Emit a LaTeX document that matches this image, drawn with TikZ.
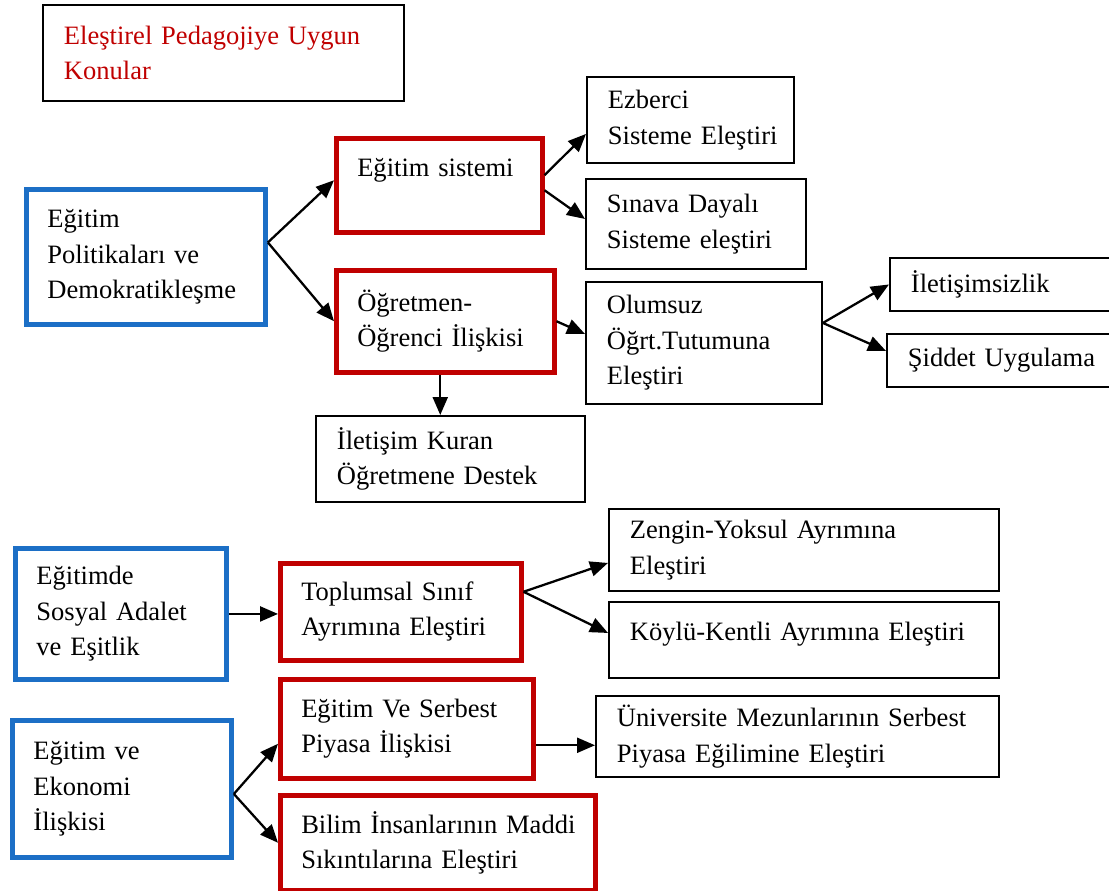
\documentclass[tikz,border=0pt]{standalone}
\usepackage{fontspec}
\setmainfont{Liberation Serif}
\usetikzlibrary{arrows.meta}
\definecolor{kirmizi}{HTML}{C00000}
\definecolor{mavi}{HTML}{1C6FC6}

\begin{document}
\begin{tikzpicture}[x=0.02cm, y=-0.02cm,
    kutu/.style={draw, line width=1.1pt, anchor=north west, align=left,
      inner xsep=0.42cm, inner ysep=0pt, font=\fontsize{15.1pt}{20.2pt}\selectfont,
      execute at begin node={\hyphenpenalty=10000}},
    mavikutu/.style={kutu, draw=mavi, line width=2.8pt},
    kirmizikutu/.style={kutu, draw=kirmizi, line width=2.6pt},
    ok/.style={line width=1.3pt, -{Triangle[length=0.36cm,width=0.3cm]}}]
  \useasboundingbox (0,0) rectangle (1109,891);

  % Title
  \node[kutu, text=kirmizi, text width=6.38cm, minimum height=1.92cm] (baslik) at (42,4)
    {Eleştirel~Pedagojiye~Uygun\\Konular};

  % First group
  \node[mavikutu, text width=3.94cm, minimum height=2.70cm] (pol) at (24,187)
    {Eğitim\\Politikaları~ve\\Demokratikleşme};
  \node[kirmizikutu, text width=3.28cm, minimum height=1.88cm] (sis) at (334,136)
    {Eğitim~sistemi\\\mbox{}};
  \node[kirmizikutu, text width=3.52cm, minimum height=2.04cm] (ogr) at (334,268)
    {Öğretmen-\\Öğrenci~İlişkisi};
  \node[kutu, text width=3.30cm, minimum height=1.72cm] (ezb) at (586,76)
    {Ezberci\\Sisteme~Eleştiri};
  \node[kutu, text width=3.56cm, minimum height=1.80cm] (sin) at (585,178)
    {Sınava~Dayalı\\Sisteme~eleştiri};
  \node[kutu, text width=3.88cm, minimum height=2.44cm] (olm) at (585,281)
    {Olumsuz\\Öğrt.Tutumuna\\Eleştiri};
  \node[kutu, text width=4.16cm, minimum height=1.06cm] (ilt) at (889,257)
    {İletişimsizlik};
  \node[kutu, text width=4.16cm, minimum height=1.06cm] (sid) at (886,333)
    {Şiddet~Uygulama};
  \node[kutu, text width=4.54cm, minimum height=1.72cm] (ilk) at (315,415)
    {İletişim~Kuran\\Öğretmene~Destek};

  % Second group
  \node[mavikutu, text width=3.38cm, minimum height=2.62cm] (sos) at (13,546)
    {Eğitimde\\Sosyal~Adalet\\ve~Eşitlik};
  \node[kirmizikutu, text width=3.98cm, minimum height=1.94cm] (snf) at (278,561)
    {Toplumsal~Sınıf\\Ayrımına~Eleştiri};
  \node[kutu, text width=6.96cm, minimum height=1.64cm] (zen) at (608,508)
    {Zengin-Yoksul~Ayrımına\\Eleştiri};
  \node[kutu, text width=6.96cm, minimum height=1.52cm] (kyl) at (608,601)
    {Köylü-Kentli~Ayrımına~Eleştiri\\[-0.35cm]\mbox{}};

  % Third group
  \node[mavikutu, text width=3.54cm, minimum height=2.74cm] (eko) at (10,718)
    {Eğitim~ve\\Ekonomi\\İlişkisi};
  \node[kirmizikutu, text width=4.22cm, minimum height=1.98cm] (ser) at (278,677)
    {Eğitim~Ve~Serbest\\Piyasa~İlişkisi};
  \node[kirmizikutu, text width=5.46cm, minimum height=1.90cm] (bil) at (278,793)
    {Bilim~İnsanlarının~Maddi\\Sıkıntılarına~Eleştiri};
  \node[kutu, text width=7.22cm, minimum height=1.62cm] (uni) at (595,695)
    {Üniversite~Mezunlarının~Serbest\\Piyasa~Eğilimine~Eleştiri};

  % Draw arrows
  \draw[ok] ([yshift=0.29cm]pol.east) -- ([yshift=0.1cm]sis.west);
  \draw[ok] ([yshift=0.29cm]pol.east) -- (ogr.west);
  \draw[ok] ([yshift=0.2cm]sis.east) -- ([yshift=-0.28cm]ezb.west);
  \draw[ok] ([yshift=-0.1cm]sis.east) -- ([yshift=0.1cm]sin.west);
  \draw[ok] (ogr.east) -- ([yshift=0.18cm]olm.west);
  \draw[ok] ([xshift=-0.1cm]ogr.south) -- ([xshift=-0.1cm]ogr.south |- ilk.north);
  \draw[ok] ([yshift=0.4cm]olm.east) -- (ilt.west);
  \draw[ok] ([yshift=0.4cm]olm.east) -- ([yshift=0.19cm]sid.west);
  \draw[ok] (sos.east) -- (sos.east -| snf.west);
  \draw[ok] ([yshift=0.4cm]snf.east) -- ([yshift=-0.26cm]zen.west);
  \draw[ok] ([yshift=0.4cm]snf.east) -- ([yshift=0.14cm]kyl.west);
  \draw[ok] ([yshift=-0.1cm]eko.east) -- ([yshift=-0.3cm]ser.west);
  \draw[ok] ([yshift=-0.1cm]eko.east) -- (bil.west);
  \draw[ok] ([yshift=-0.33cm]ser.east) -- ([yshift=-0.33cm]ser.east -| uni.west);
\end{tikzpicture}
\end{document}
